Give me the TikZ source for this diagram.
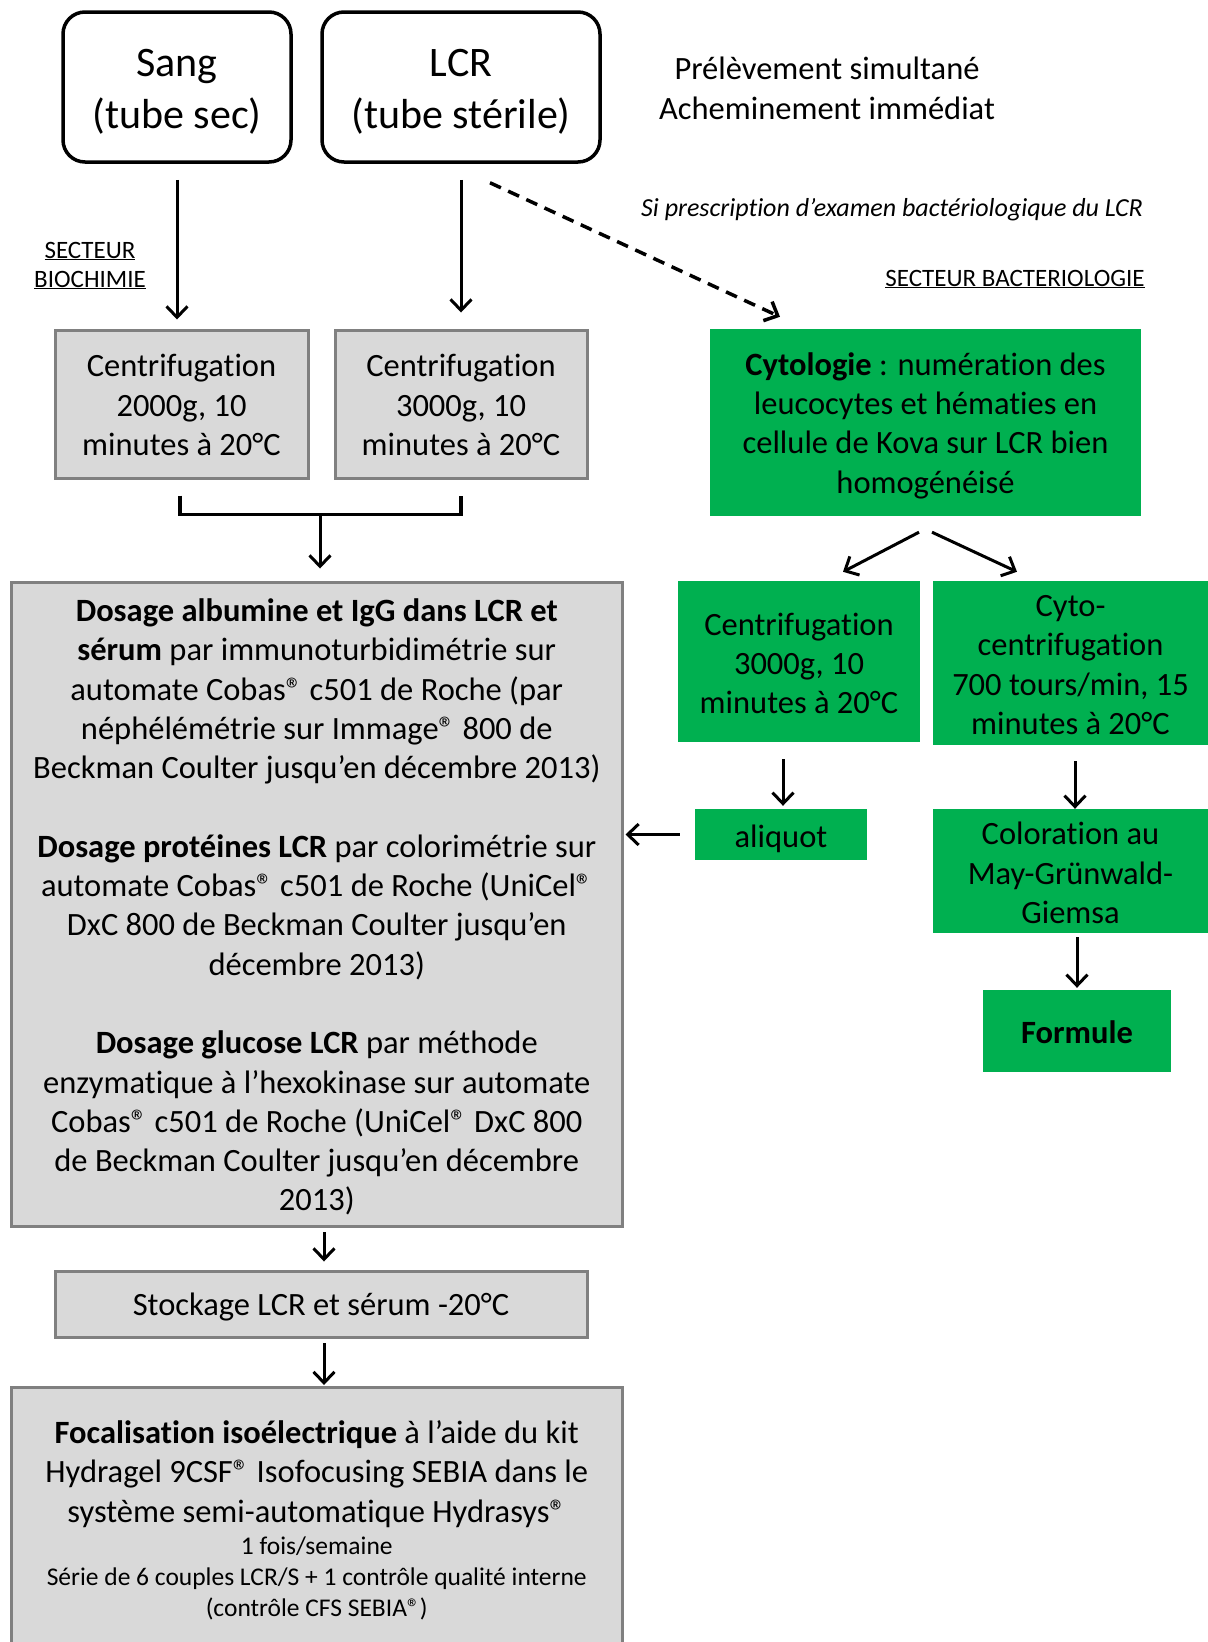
\documentclass[tikz,border=0pt]{standalone}
\usepackage{fontspec}
\setmainfont{Carlito}[Ligatures=NoCommon]
\usetikzlibrary{arrows.meta}
\definecolor{boxgrey}{HTML}{D9D9D9}
\definecolor{edgegrey}{HTML}{808080}
\definecolor{labgreen}{HTML}{00B050}
\newcommand\fsz[2]{\fontsize{#1pt}{#2pt}\selectfont}
\newcommand\regmark{®}
\begin{document}
\begin{tikzpicture}[x=1pt,y=-1pt,
  tubebox/.style={draw=black, line width=3.5pt, rounded corners=22pt, inner sep=0pt},
  greybox/.style={draw=edgegrey, fill=boxgrey, line width=3pt, inner sep=0pt},
  greenbox/.style={fill=labgreen, inner sep=0pt},
  txt/.style={inner sep=0pt, align=center, font=\fsz{32.5}{39.3}},
  bigtxt/.style={txt, font=\fsz{42}{52}},
  arr/.style={line width=3pt, -{Straight Barb[length=11pt,width=21pt,line width=3pt]}},
  dasharr/.style={line width=3.5pt, dash pattern=on 12pt off 8pt, -{Straight Barb[length=11pt,width=21pt,line width=3.5pt]}},
  bracket/.style={line width=3.5pt}
]
\useasboundingbox (0,0) rectangle (1208,1642);
\fill[white] (0,0) rectangle (1208,1642);

% top tubes
\node[tubebox, minimum width=228pt, minimum height=150pt] (sang) at (177,87) {};
\node[bigtxt] (sangt) at ([yshift=-5pt]sang.center) {Sang\\(tube sec)};
\node[tubebox, minimum width=278pt, minimum height=150pt] (lcr) at (461,87) {};
\node[bigtxt] (lcrt) at ([yshift=-5pt]lcr.center) {LCR\\(tube stérile)};
\node[txt, font=\fsz{32.5}{40}] (prel) at (827,88) {Prélèvement simultané\\Acheminement immédiat};
\node[txt, font=\fsz{26}{30}\itshape] (si) at (892,210) {Si prescription d’examen bactériologique du LCR};
\node[txt, font=\fsz{25}{29}] (sbact) at (1015,279) {\underline{SECTEUR BACTERIOLOGIE}};
\node[txt, font=\fsz{25}{29}] (sbio) at (90,265.5) {\underline{SECTEUR}\\\underline{BIOCHIMIE}};

% biochemistry
\node[greybox, minimum width=253pt, minimum height=148pt] (c1) at (181.5,404) {};
\node[txt] (c1t) at ([yshift=-1pt]c1.center) {Centrifugation\\2000g, 10\\minutes à 20°C};
\node[greybox, minimum width=252pt, minimum height=148pt] (c2) at (461,404) {};
\node[txt] (c2t) at ([yshift=-1pt]c2.center) {Centrifugation\\3000g, 10\\minutes à 20°C};
\node[greybox, minimum width=610.5pt, minimum height=644pt] (big) at (316.75,904) {};
\node[txt] (bigt) at ([yshift=-3pt]big.center) {%
\textbf{Dosage albumine et IgG dans LCR et}\\
\textbf{sérum} par immunoturbidimétrie sur\\
automate Cobas\regmark{} c501 de Roche (par\\
néphélémétrie sur Immage\regmark{} 800 de\\
Beckman Coulter jusqu’en décembre 2013)\\[39.3pt]
\textbf{Dosage protéines LCR} par colorimétrie sur\\
automate Cobas\regmark{} c501 de Roche (UniCel\regmark\\
DxC 800 de Beckman Coulter jusqu’en\\
décembre 2013)\\[39.3pt]
\textbf{Dosage glucose LCR} par méthode\\
enzymatique à l’hexokinase sur automate\\
Cobas\regmark{} c501 de Roche (UniCel\regmark{} DxC 800\\
de Beckman Coulter jusqu’en décembre\\
2013)};
\node[greybox, minimum width=532pt, minimum height=66pt] (stock) at (321,1304) {};
\node[txt] (stockt) at ([yshift=-3pt]stock.center) {Stockage LCR et sérum -20°C};
\node[greybox, minimum width=610.5pt, minimum height=320pt, anchor=north] (focal) at (316.75,1386) {};
\node[txt] (focaltop) at (316.75,1474) {\textbf{Focalisation isoélectrique} à l’aide du kit\\
Hydragel 9CSF\regmark{} Isofocusing SEBIA dans le\\
système semi-automatique Hydrasys\regmark};
\node[txt, font=\fsz{25.5}{31}] (focalbot) at (316.75,1578) {1 fois/semaine\\
Série de 6 couples LCR/S + 1 contrôle qualité interne\\
(contrôle CFS SEBIA\regmark)};

% bacteriology
\node[greenbox, minimum width=431pt, minimum height=187pt] (cyt) at (925.5,422.5) {};
\node[txt] (cytt) at ([yshift=-3pt]cyt.center) {\textbf{Cytologie} : numération des\\leucocytes et hématies en\\cellule de Kova sur LCR bien\\homogénéisé};
\node[greenbox, minimum width=242pt, minimum height=161pt] (cg) at (799,661.5) {};
\node[txt] (cgt) at ([yshift=-2pt]cg.center) {Centrifugation\\3000g, 10\\minutes à 20°C};
\node[greenbox, minimum width=275pt, minimum height=164pt] (cc) at (1070.5,663) {};
\node[txt] (cct) at ([yshift=-2pt]cc.center) {Cyto-\\centrifugation\\700 tours/min, 15\\minutes à 20°C};
\node[greenbox, minimum width=172pt, minimum height=51pt] (aliq) at (781,834.5) {};
\node[txt] (aliqt) at ([yshift=-4pt]aliq.center) {aliquot};
\node[greenbox, minimum width=275pt, minimum height=124pt] (color) at (1070.5,871) {};
\node[txt] (colort) at ([yshift=-2pt]color.center) {Coloration au\\May-Grünwald-\\Giemsa};
\node[greenbox, minimum width=188pt, minimum height=82pt] (form) at (1077,1031) {};
\node[txt] (formt) at ([yshift=-1pt]form.center) {\textbf{Formule}};

% connectors
\draw[arr] ([yshift=-16pt]sang.south) -- ([yshift=9pt]sang.south |- c1.north);
\draw[arr] ([yshift=-16pt]lcr.south) -- ([yshift=16pt]lcr.south |- c2.north);
\draw[dasharr] ([xshift=29pt,yshift=-19pt]lcr.south) -- ([xshift=-145.5pt,yshift=12pt]cyt.north);
\draw[bracket] ([xshift=-1.5pt,yshift=-16pt]c1.south) -- ++(0,19) coordinate (bl) -| ([yshift=-16pt]c2.south);
\coordinate (brk) at (320,513);
\draw[arr] (brk) -- ([yshift=12pt]brk |- big.north);
\coordinate (b2) at (324,1226);
\draw[arr] ([yshift=-6pt]b2) -- ([yshift=8pt]b2 |- stock.north);
\coordinate (s2) at (324,1337);
\draw[arr] ([yshift=-6pt]s2) -- ([yshift=1pt]s2 |- focal.north);
\draw[arr] ([xshift=-6.5pt,yshift=-16pt]cyt.south) -- ([xshift=44pt,yshift=9pt]cg.north);
\draw[arr] ([xshift=6.5pt,yshift=-16pt]cyt.south) -- ([xshift=-53.5pt,yshift=9pt]cc.north);
\draw[arr] ([xshift=-16pt,yshift=-17pt]cg.south) -- ([xshift=2pt,yshift=3pt]aliq.north);
\draw[arr] (aliq.west) ++(-15pt,0) -- ([xshift=2pt]big.east |- aliq.west);
\draw[arr] ([xshift=4.5pt,yshift=-16pt]cc.south) -- ([xshift=4.5pt]color.north);
\draw[arr] ([xshift=6.5pt,yshift=-4pt]color.south) -- ([yshift=2pt]form.north);
\end{tikzpicture}
\end{document}
